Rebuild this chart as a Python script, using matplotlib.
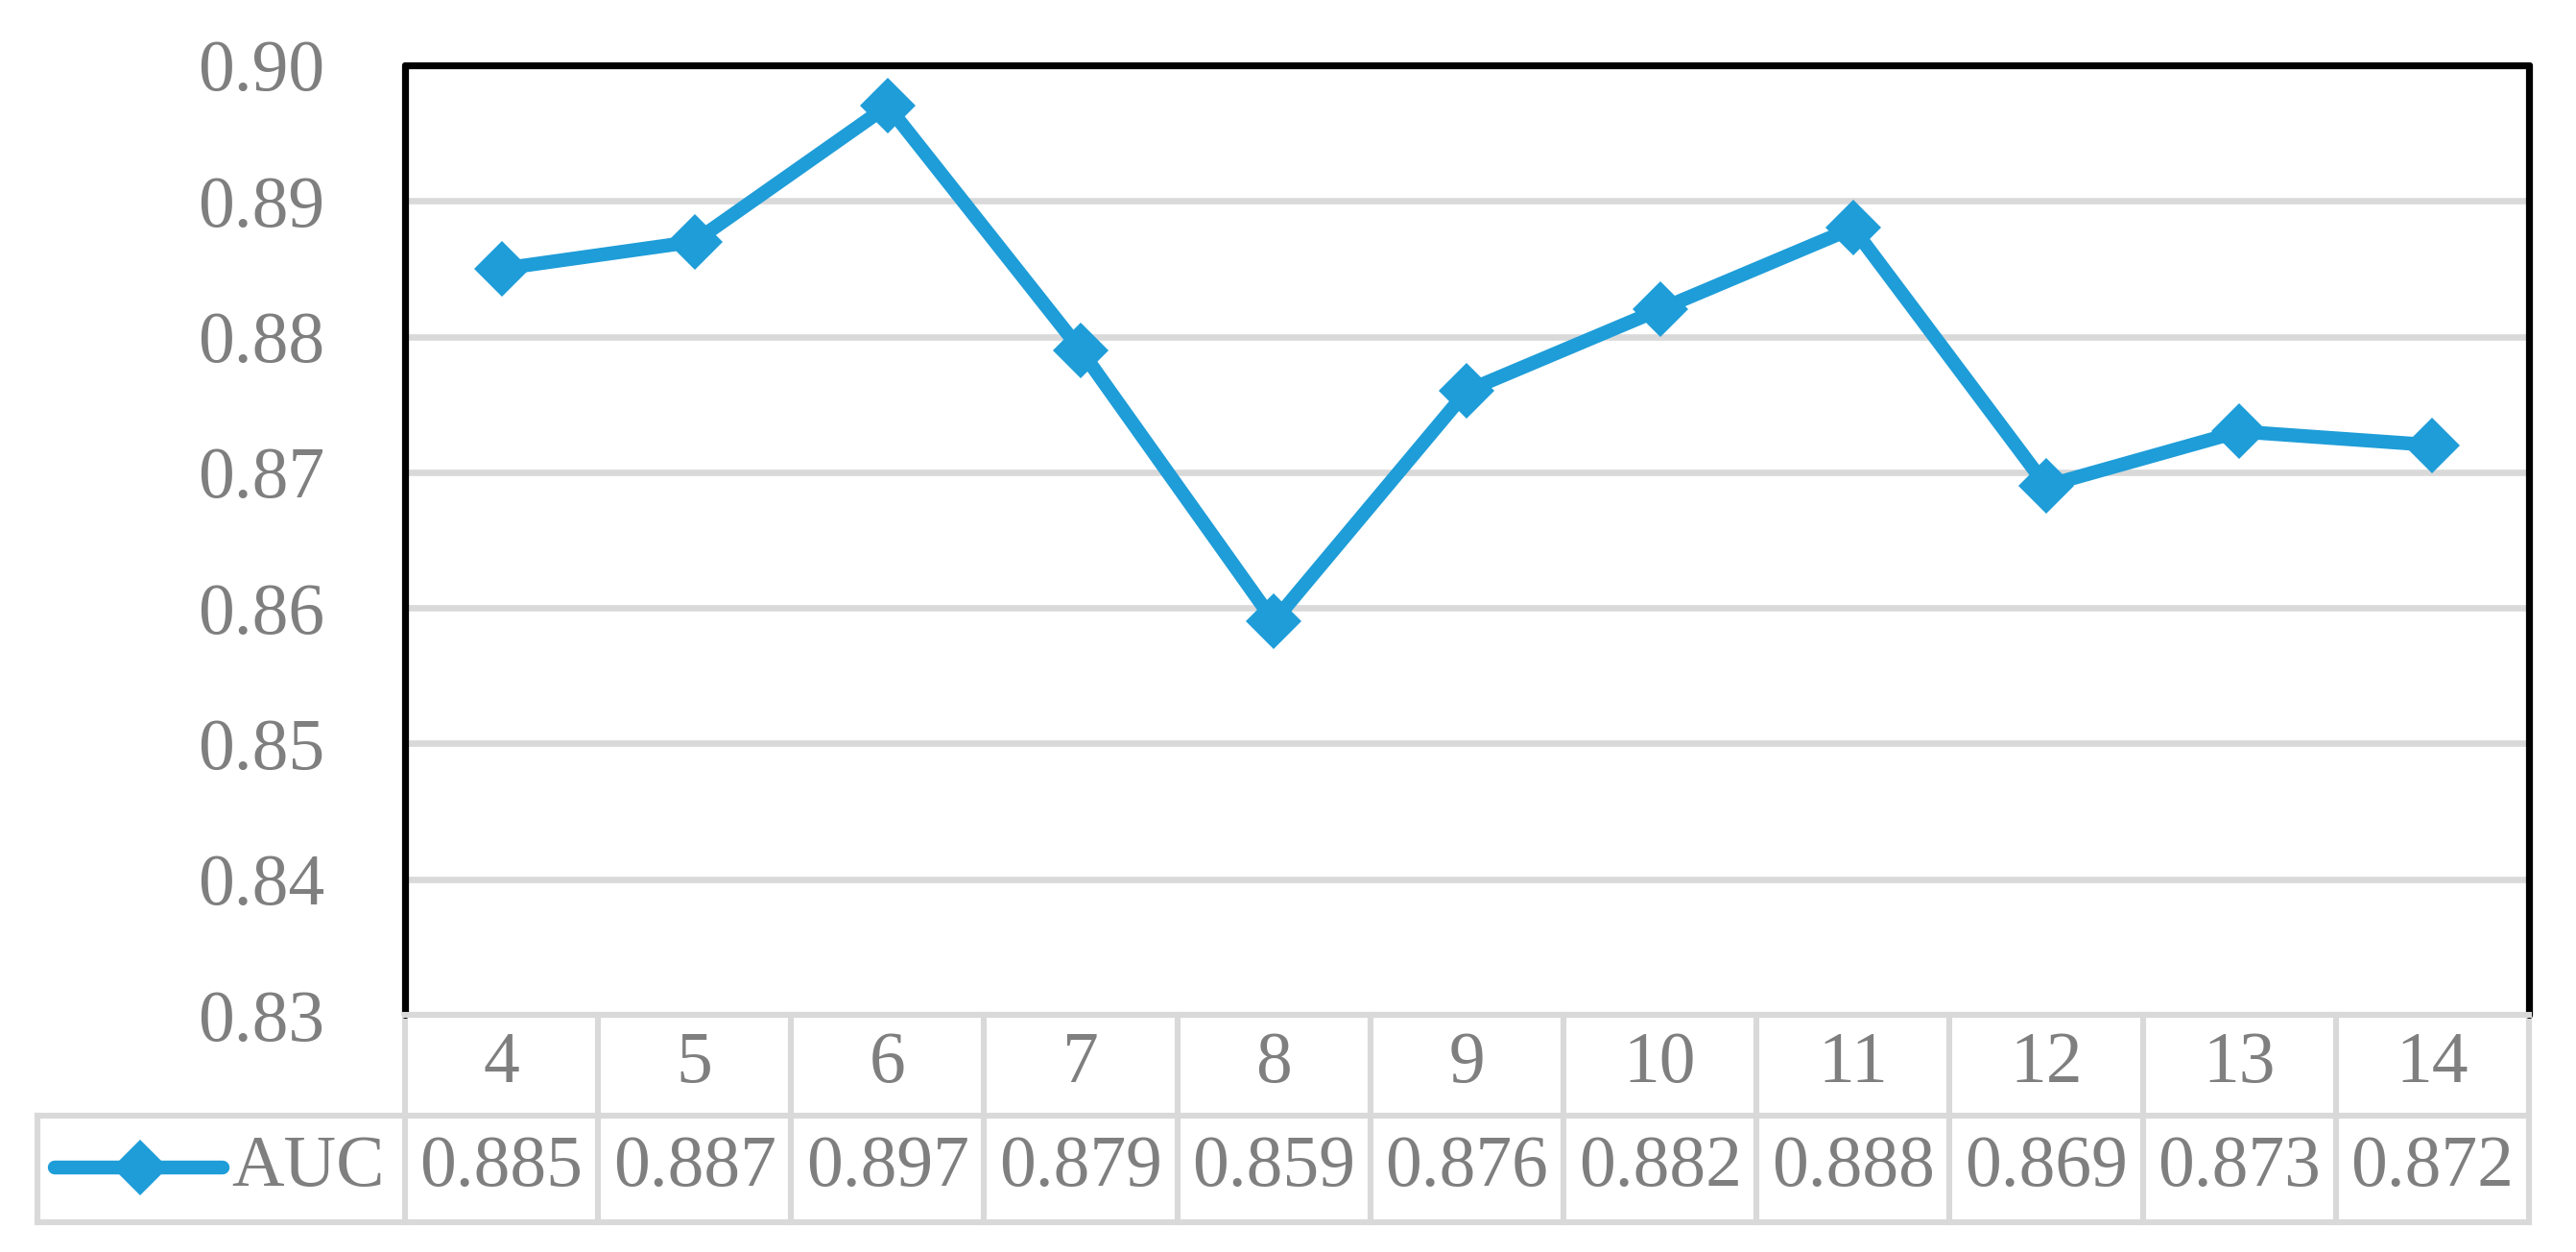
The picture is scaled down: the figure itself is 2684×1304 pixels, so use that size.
import matplotlib
matplotlib.use("Agg")
import matplotlib.pyplot as plt
from matplotlib.lines import Line2D

categories = ["4", "5", "6", "7", "8", "9", "10", "11", "12", "13", "14"]
auc = [0.885, 0.887, 0.897, 0.879, 0.859, 0.876, 0.882, 0.888, 0.869, 0.873, 0.872]
auc_labels = ["0.885", "0.887", "0.897", "0.879", "0.859", "0.876", "0.882", "0.888", "0.869", "0.873", "0.872"]
series_name = "AUC"
yticks = [0.83, 0.84, 0.85, 0.86, 0.87, 0.88, 0.89, 0.90]

LINE_C = "#1E9DD8"
GRID_C = "#D9D9D9"
TEXT_C = "#7F7F7F"
FONT = ["Liberation Serif", "DejaVu Serif"]
FS = 27.2
LW = 5.2
MS = 14.8

plt.rcParams["font.family"] = FONT

fig = plt.figure(figsize=(13.42, 6.52), dpi=200)
ax = fig.add_axes([0.1572, 0.1894, 0.8245, 0.7585])

x = list(range(len(categories)))
ax.plot(x, auc, color=LINE_C, lw=LW, marker="D", ms=MS, mew=0,
        solid_joinstyle="round", zorder=3)

ax.set_xlim(-0.5, len(categories) - 0.5)
ax.set_ylim(0.83, 0.90)
ax.set_yticks(yticks)
ax.set_yticklabels([f"{v:.2f}" for v in yticks], fontsize=FS, color=TEXT_C)
ax.tick_params(axis="y", length=0, pad=30)
ax.set_xticks([])

for v in yticks[1:-1]:
    ax.axhline(v, color=GRID_C, lw=2.4, zorder=1)

for side in ["top", "left", "right"]:
    ax.spines[side].set_color("black")
    ax.spines[side].set_linewidth(2.6)
    ax.spines[side].set_capstyle("round")
ax.spines["bottom"].set_color(GRID_C)
ax.spines["bottom"].set_linewidth(2.2)

tr = ax.get_xaxis_transform()
h1 = -0.1062
h2 = -0.2184
xl = -2.405
xr = len(categories) - 0.5
tl = 2.2

def seg(xs, ys):
    ax.add_line(Line2D(xs, ys, transform=tr, color=GRID_C, lw=tl,
                       clip_on=False, solid_capstyle="projecting", zorder=2))

seg([-0.5, xr], [0, 0])
seg([xl, xr], [h1, h1])
seg([xl, xr], [h2, h2])
for k in range(len(categories) + 1):
    seg([-0.5 + k, -0.5 + k], [0, h2])
seg([xl, xl], [h1, h2])

for i, c in enumerate(categories):
    ax.text(i, -0.0516, c, transform=tr, ha="center", va="center",
            fontsize=FS, color=TEXT_C, clip_on=False)
    ax.text(i, -0.161, auc_labels[i], transform=tr, ha="center", va="center",
            fontsize=FS, color=TEXT_C, clip_on=False)

# legend key in table
ax.add_line(Line2D([-2.316, -1.445], [-0.161, -0.161], transform=tr, color=LINE_C,
                   lw=LW, solid_capstyle="round", clip_on=False, zorder=3))
ax.add_line(Line2D([-1.873], [-0.161], transform=tr, color=LINE_C, marker="D",
                   ms=MS, mew=0, ls="none", clip_on=False, zorder=3))
ax.text(-1.40, -0.161, series_name, transform=tr, ha="left", va="center",
        fontsize=FS, color=TEXT_C, clip_on=False)

fig.savefig("out.png", dpi=200, facecolor="white")
